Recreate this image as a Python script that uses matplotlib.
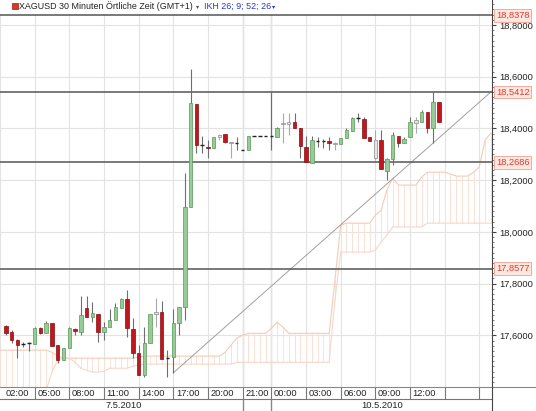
import matplotlib
matplotlib.use("Agg")
import matplotlib.pyplot as plt
from matplotlib.patches import Rectangle
from matplotlib.lines import Line2D
from matplotlib.ticker import MultipleLocator, FuncFormatter

plt.rcParams['font.family'] = ['Liberation Sans', 'DejaVu Sans']

# XAGUSD, 30-minute bars; bar index 0 = 7.5.2010 02:00
bar_idx = list(range(1, 77))
opens = [17.636, 17.613, 17.581, 17.566, 17.570, 17.566, 17.628, 17.608, 17.647, 17.562,
         17.504, 17.550, 17.624, 17.612, 17.705, 17.670, 17.682, 17.612, 17.632, 17.659,
         17.705, 17.740, 17.624, 17.531, 17.446, 17.570, 17.682, 17.690, 17.512, 17.516,
         17.647, 17.709, 18.096, 18.494, 18.336, 18.328, 18.324, 18.367, 18.378, 18.347,
         18.343, 18.316, 18.316, 18.371, 18.371, 18.371, 18.371, 18.367, 18.417, 18.417,
         18.425, 18.401, 18.328, 18.266, 18.351, 18.351, 18.351, 18.343, 18.340, 18.363,
         18.390, 18.440, 18.436, 18.367, 18.355, 18.355, 18.235, 18.282, 18.371, 18.343,
         18.367, 18.421, 18.425, 18.463, 18.401, 18.502]
highs = [17.640, 17.620, 17.585, 17.574, 17.574, 17.632, 17.632, 17.655, 17.647, 17.562,
         17.550, 17.632, 17.628, 17.752, 17.752, 17.728, 17.682, 17.651, 17.701, 17.725,
         17.744, 17.775, 17.667, 17.562, 17.632, 17.682, 17.744, 17.732, 17.543, 17.701,
         17.709, 18.227, 18.630, 18.494, 18.371, 18.355, 18.367, 18.378, 18.378, 18.347,
         18.367, 18.316, 18.371, 18.371, 18.371, 18.371, 18.541, 18.405, 18.460, 18.460,
         18.460, 18.401, 18.371, 18.371, 18.367, 18.359, 18.367, 18.347, 18.363, 18.401,
         18.444, 18.460, 18.444, 18.367, 18.394, 18.394, 18.285, 18.386, 18.371, 18.367,
         18.444, 18.444, 18.471, 18.463, 18.541, 18.502]
lows = [17.601, 17.570, 17.512, 17.554, 17.539, 17.566, 17.605, 17.608, 17.558, 17.492,
        17.504, 17.550, 17.601, 17.601, 17.670, 17.651, 17.574, 17.581, 17.632, 17.659,
        17.705, 17.593, 17.512, 17.446, 17.438, 17.570, 17.632, 17.508, 17.438, 17.455,
        17.601, 17.659, 18.096, 18.305, 18.305, 18.285, 18.324, 18.355, 18.343, 18.285,
        18.316, 18.316, 18.316, 18.371, 18.371, 18.371, 18.316, 18.367, 18.343, 18.374,
        18.401, 18.285, 18.270, 18.266, 18.328, 18.324, 18.316, 18.316, 18.340, 18.363,
        18.390, 18.425, 18.363, 18.351, 18.278, 18.243, 18.200, 18.258, 18.328, 18.343,
        18.367, 18.382, 18.425, 18.382, 18.343, 18.425]
closes = [17.608, 17.581, 17.562, 17.566, 17.570, 17.628, 17.608, 17.647, 17.558, 17.504,
          17.550, 17.628, 17.616, 17.678, 17.670, 17.686, 17.612, 17.632, 17.659, 17.709,
          17.740, 17.628, 17.531, 17.446, 17.570, 17.682, 17.690, 17.508, 17.512, 17.647,
          17.709, 18.096, 18.498, 18.336, 18.336, 18.324, 18.367, 18.374, 18.347, 18.343,
          18.343, 18.316, 18.371, 18.371, 18.371, 18.371, 18.371, 18.401, 18.421, 18.425,
          18.401, 18.332, 18.270, 18.355, 18.351, 18.351, 18.343, 18.340, 18.363, 18.394,
          18.440, 18.440, 18.363, 18.351, 18.285, 18.243, 18.282, 18.374, 18.343, 18.359,
          18.425, 18.432, 18.463, 18.401, 18.502, 18.425]
gray_bars = [27, 38, 40, 49, 50, 58, 65, 72]

# Ichimoku cloud (IKH 26; 9; 52; 26), bars 0..85
cloud_idx = list(range(0, 86))
span_a = ([17.543] * 9 + [17.535, 17.520] + [17.512] * 13 + [17.516] + [17.520] * 14
          + [17.535, 17.562, 17.589, 17.601] + [17.608] * 4 + [17.628, 17.651, 17.632]
          + [17.608] * 8 + [17.813, 18.026] + [18.034] * 5 + [18.065, 18.084, 18.162, 18.208]
          + [18.181] * 4 + [18.212] + [18.231] * 4 + [18.224] + [18.216] * 3
          + [18.231, 18.251, 18.355, 18.382])
span_b = ([17.369] * 8 + [17.388, 17.458, 17.504, 17.512, 17.512, 17.496, 17.473, 17.465,
          17.458, 17.458, 17.462] + [17.473] * 4 + [17.481, 17.485] + [17.489] * 16
          + [17.496] * 17 + [17.736] + [17.922] * 6 + [17.930, 17.961, 17.988]
          + [18.019] * 6 + [18.034] * 12)

# horizontal lines and trend line
levels = [18.8378, 18.5412, 18.2686, 17.8577]
trend_x = [30, 85.2]
trend_y = [17.455, 18.545]

# time axis
tick_pos = [0, 6, 12, 18, 24, 30, 36, 42, 47, 53, 59, 65, 71, 77, 83]
tick_labels = ["02:00", "05:00", "08:00", "11:00", "14:00", "17:00", "20:00", "21:00",
               "00:00", "03:00", "06:00", "09:00", "12:00", "", ""]
day_pos = [42, 47]
dates = ["7.5.2010", "10.5.2010"]

W, H = 536, 411
fig = plt.figure(figsize=(W / 100, H / 100), dpi=100)
ax = fig.add_axes([0, 24 / H, 492 / W, 387 / H])
x_left, x_right = 0.857, 85.2
ax.set_xlim(x_left, x_right)
ax.set_ylim(17.4005, 18.8967)

for s in ['left', 'top']:
    ax.spines[s].set_visible(False)
ax.spines['right'].set_color('#444')
ax.spines['bottom'].set_color('#888')
ax.spines['right'].set_linewidth(0.8)
ax.spines['bottom'].set_linewidth(0.8)

ax.yaxis.tick_right()
ax.yaxis.set_major_locator(MultipleLocator(0.2))
ax.yaxis.set_minor_locator(MultipleLocator(0.02))
ax.yaxis.set_major_formatter(FuncFormatter(lambda v, p: f"{v:.4f}".replace('.', ',')))
ax.tick_params(axis='y', which='major', length=3, width=0.8, color='#444',
               labelsize=6.7, pad=2, labelcolor='#222')
ax.tick_params(axis='y', which='minor', length=1.5, width=0.6, color='#666')
ax.set_xticks(tick_pos)
ax.tick_params(axis='x', length=0, labelbottom=False)
ax.grid(True, color='#e3e3e3', lw=0.8, zorder=0)
ax.set_axisbelow(True)
for d in day_pos:
    ax.axvline(d, color='#b8b8b8', lw=0.9, zorder=0.5)

# cloud
lo = [min(a, b) for a, b in zip(span_a, span_b)]
hi = [max(a, b) for a, b in zip(span_a, span_b)]
ax.vlines(cloud_idx, lo, hi, color='#fae1d5', lw=0.7, zorder=1)
ax.plot(cloud_idx, span_a, color='#f5cab6', lw=0.8, zorder=1.2)
ax.plot(cloud_idx, span_b, color='#f8d6c6', lw=0.8, zorder=1.2)

# trend line and levels
ax.plot(trend_x, trend_y, color='#a0a0a0', lw=0.7, zorder=2)
for lv in levels:
    ax.axhline(lv, color='#555', lw=1.1, zorder=2)
    ax.text(1.0 + 4 / 492, lv, f"{lv:.4f}".replace('.', ','), transform=ax.get_yaxis_transform(),
            ha='left', va='center', fontsize=6.7, color='#e03a30', clip_on=False, zorder=6,
            bbox=dict(boxstyle='square,pad=0.2', fc='#fde7df', ec='#f2aaa0', lw=0.7))

# candles
bw = 0.6
for i, o, h, l, c in zip(bar_idx, opens, highs, lows, closes):
    gray = i in gray_bars
    ax.vlines(i, l, h, color='#aaaaaa' if gray else '#6e6e6e', lw=0.8, zorder=3)
    if gray:
        ax.bar(i, max(abs(c - o), 0.004), bw, bottom=min(o, c), color='#e6e6e6',
               edgecolor='#9a9a9a', lw=0.6, zorder=4)
    elif abs(c - o) < 0.002:
        ax.hlines(o, i - bw / 2, i + bw / 2, color='#222', lw=1.0, zorder=4)
    elif c > o:
        ax.bar(i, c - o, bw, bottom=o, color='#96cd96', edgecolor='#5a965a', lw=0.5, zorder=4)
    else:
        ax.bar(i, o - c, bw, bottom=c, color='#c0161e', edgecolor='#880c10', lw=0.5, zorder=4)

# bottom time/date rows
tr = ax.get_xaxis_transform()
r1 = 12 / 387
r2 = 24 / 387
for p, lab in zip(tick_pos, tick_labels):
    xp = max(p + 0.45, x_left + 0.2)
    ax.text(xp, -r1 / 2, lab, transform=tr, ha='left', va='center', fontsize=6.7,
            color='#222', clip_on=False)
ax.vlines([p for p in tick_pos if p > x_left], -r1, 0, transform=tr, color='#777',
          lw=0.8, clip_on=False)
ax.plot([0, 1], [-r1, -r1], transform=ax.transAxes, color='#777', lw=0.8, clip_on=False)
ax.vlines(day_pos, -r2, -r1, transform=tr, color='#888', lw=1.0, clip_on=False)
ax.text((x_left + day_pos[0]) / 2, -r1 - (r2 - r1) / 2, dates[0], transform=tr,
        ha='center', va='center', fontsize=6.7, color='#222', clip_on=False)
ax.text((day_pos[1] + x_right) / 2, -r1 - (r2 - r1) / 2, dates[1], transform=tr,
        ha='center', va='center', fontsize=6.7, color='#222', clip_on=False)
fig.add_artist(Line2D([492 / W, 1], [24 / H, 24 / H], color='#888', lw=0.8))
fig.add_artist(Line2D([492 / W, 492 / W], [0, 24 / H], color='#444', lw=0.8))

# header strip
fig.add_artist(Rectangle((0, 1 - 14.5 / H), 492 / W, 14.5 / H, transform=fig.transFigure,
                         fc='white', ec='none', zorder=2))
fig.add_artist(Rectangle((12 / W, 1 - 9 / H), 6 / W, 6 / H, transform=fig.transFigure,
                         fc='#d8382a', ec='#9a1e14', lw=0.5, zorder=3))
fig.text(19 / W, 1 - 6.5 / H, "XAGUSD 30 Minuten Örtliche Zeit (GMT+1)", fontsize=6.4,
         color='#222', va='center', ha='left', zorder=4)
fig.text(196 / W, 1 - 6.5 / H, "▾", fontsize=4.5, color='#555', va='center', ha='left', zorder=4)
fig.text(204 / W, 1 - 6.5 / H, "IKH 26; 9; 52; 26", fontsize=6.4, color='#2438d8',
         va='center', ha='left', zorder=4)
fig.text(272 / W, 1 - 6.5 / H, "▾", fontsize=4.5, color='#2438d8', va='center', ha='left', zorder=4)

fig.savefig("out.png", dpi=100)
